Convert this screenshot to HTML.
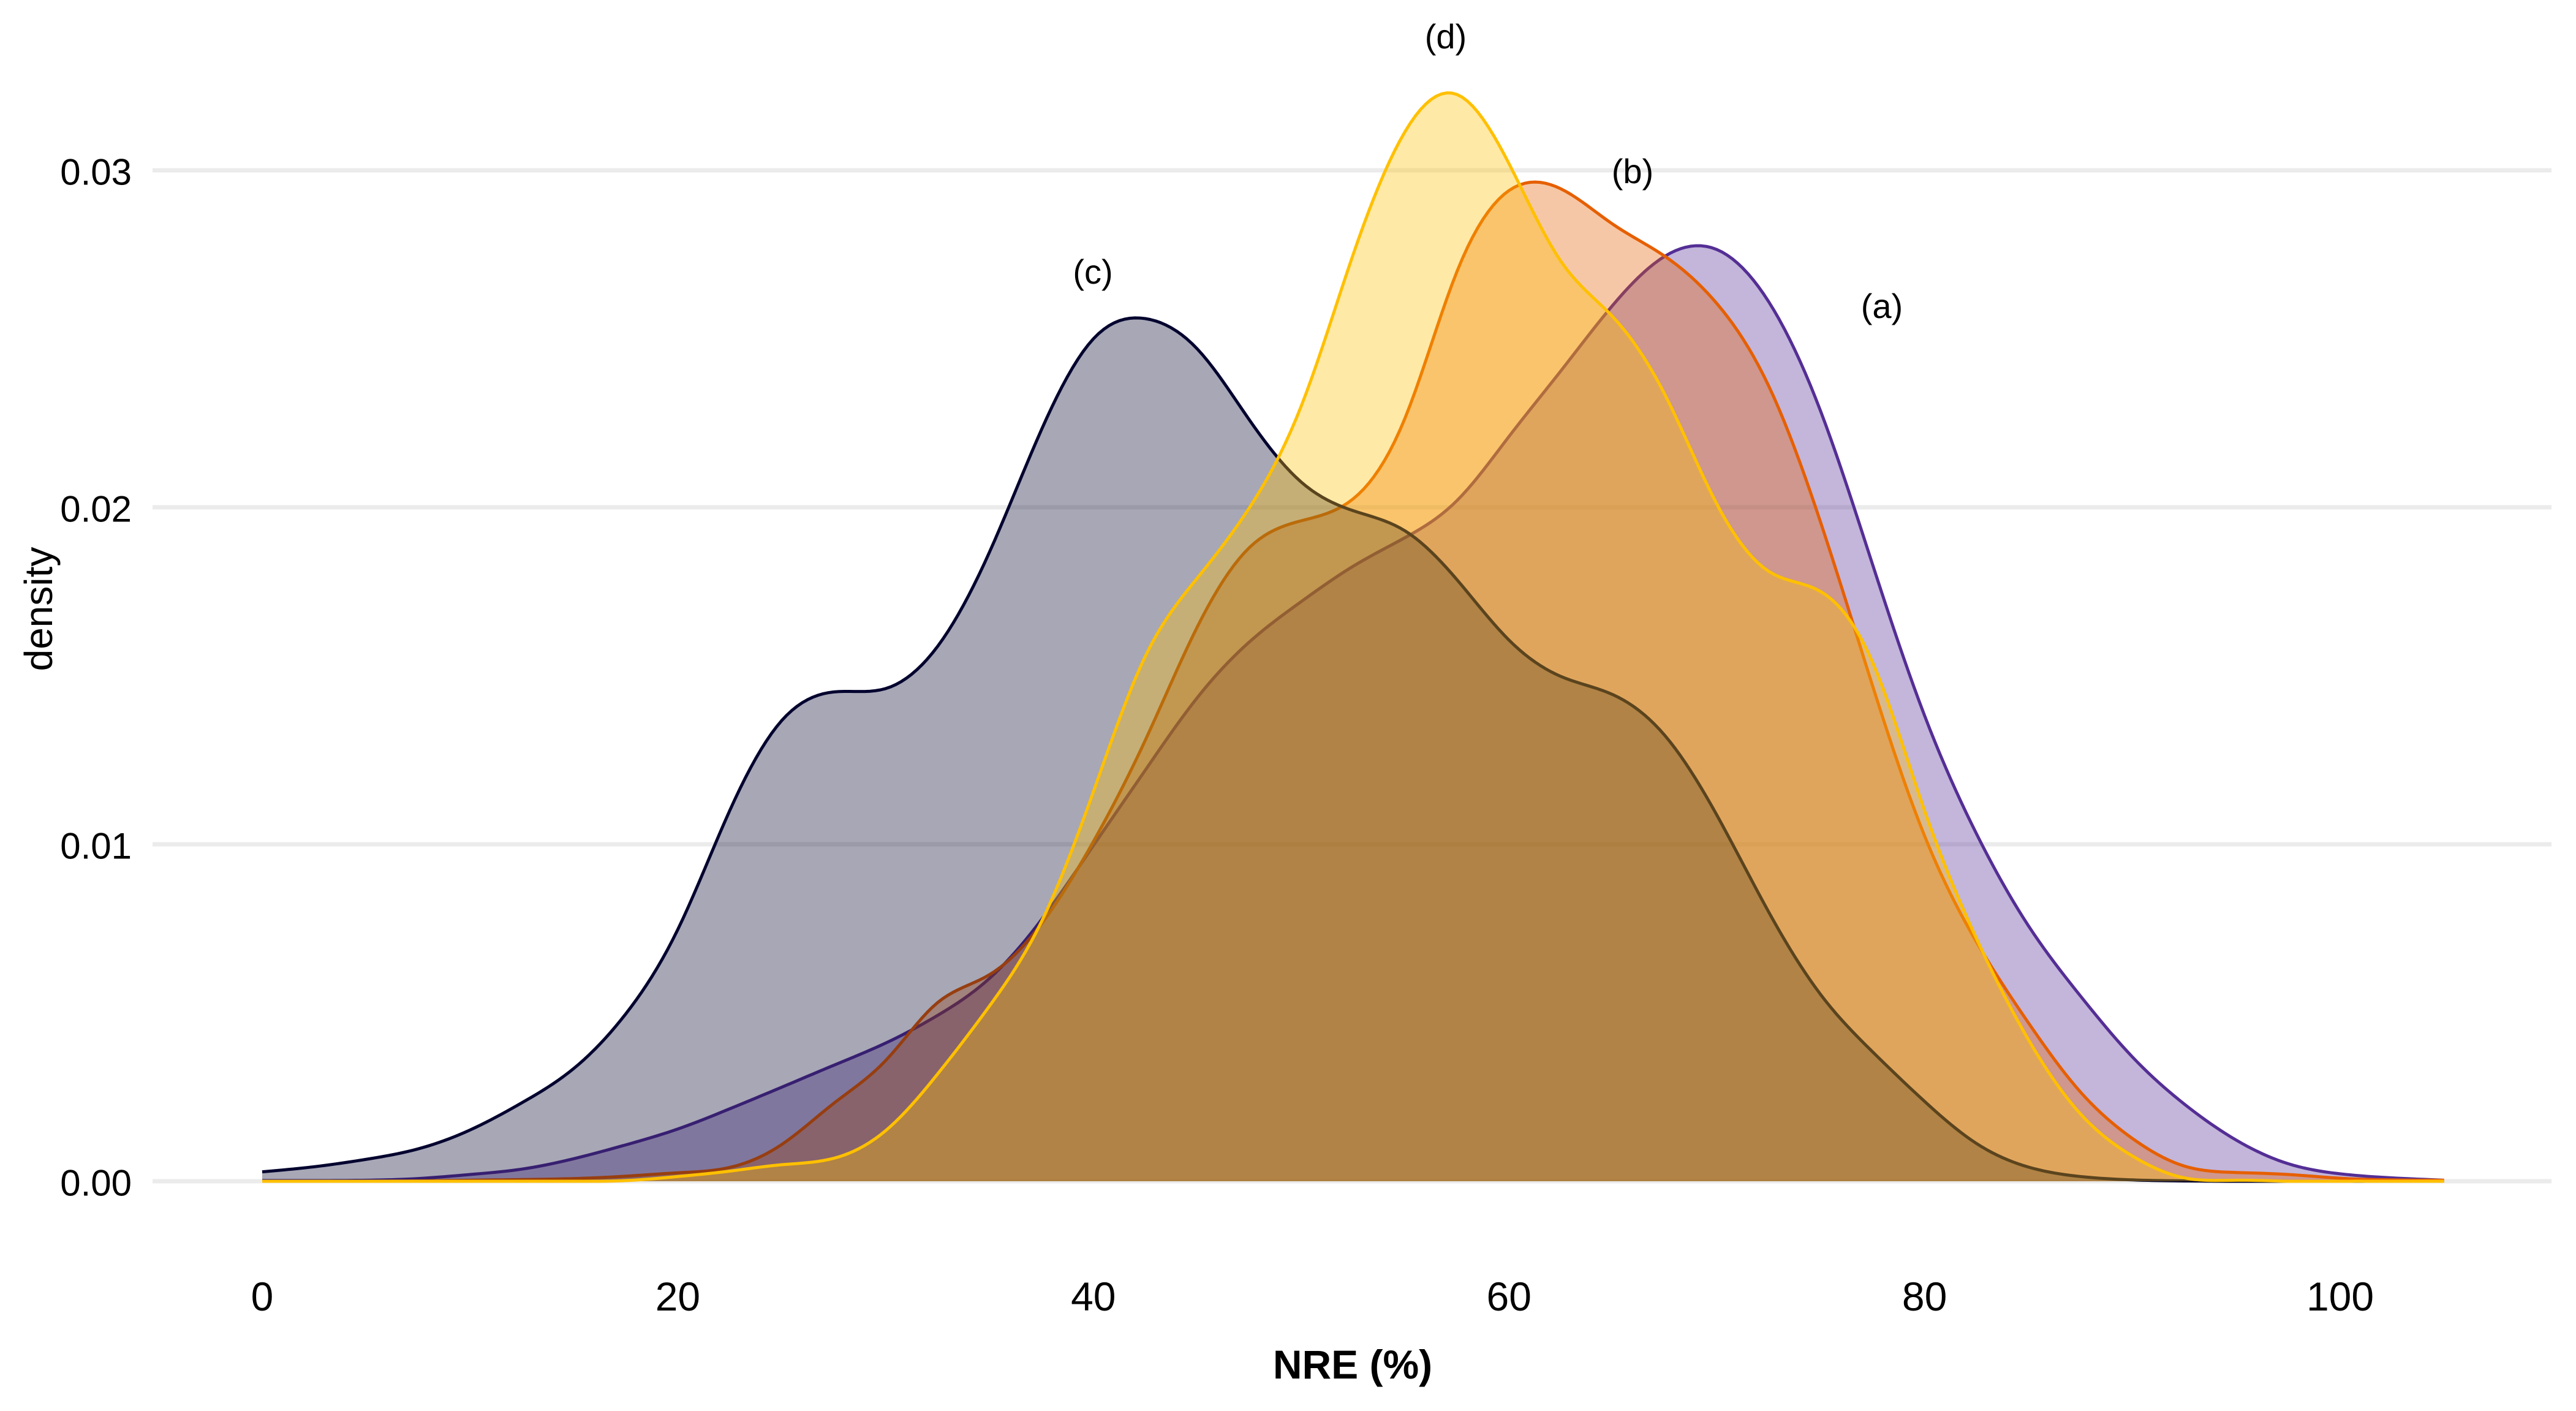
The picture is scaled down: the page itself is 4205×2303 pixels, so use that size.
<!DOCTYPE html>
<html lang="en">
<head>
<meta charset="utf-8">
<title>NRE density plot</title>
<style>
html,body{margin:0;padding:0;background:#fff;width:4205px;height:2303px;overflow:hidden}
svg{display:block}
text{font-family:"Liberation Sans",Arial,sans-serif;fill:#000}
</style>
</head>
<body>
<svg id="chart" xmlns="http://www.w3.org/2000/svg" width="4205" height="2303" viewBox="0 0 4205 2303">
<rect x="0" y="0" width="4205" height="2303" fill="#ffffff"/>
<g id="grid"></g>
<g id="series"></g>
<g id="yticks"></g>
<g id="xticks"></g>
<g id="annots"></g>
<text transform="translate(85 994) rotate(-90)" text-anchor="middle" font-size="64">density</text>
<text x="2208" y="2250" text-anchor="middle" font-size="66" font-weight="700">NRE (%)</text>
</svg>
<script>
var nreGrid = [0,2.5,5,7.5,10,12.5,15,17.5,20,22.5,25,27.5,30,32.5,35,37.5,40,42.5,45,47.5,50,52.5,55,57.5,60,62.5,65,67.5,70,72.5,75,77.5,80,82.5,85,87.5,90,92.5,95,97.5,100,102.5,105];
var densityC = [0.00028,0.00043,0.00065,0.00096,0.00152,0.00233,0.00335,0.00497,0.00747,0.0110,0.01367,0.01452,0.01462,0.01587,0.01867,0.0223,0.0250,0.0256,0.0247,0.0226,0.02075,0.0199,0.0193,0.01785,0.01606,0.01498,0.01444,0.01323,0.01087,0.00799,0.00554,0.00384,0.00237,0.00112,0.00042,0.00014,0.00004,0.00001,0,0,0,0,0];
var densityA = [0.00002,0.00002,0.00003,0.00008,0.0002,0.00036,0.00067,0.00108,0.00155,0.00215,0.00279,0.00344,0.0041,0.00492,0.00602,0.00776,0.00996,0.0122,0.01435,0.0160,0.0172,0.01825,0.0191,0.0202,0.0221,0.02405,0.0260,0.02745,0.02765,0.0261,0.02285,0.0183,0.01382,0.01031,0.00758,0.0055,0.00369,0.00229,0.00122,0.00052,0.00022,0.0001,0.00003];
var densityB = [0,0,0,0.00001,0.00003,0.00005,0.00008,0.00015,0.00025,0.00041,0.00109,0.00231,0.00358,0.0053,0.00613,0.00764,0.01008,0.01309,0.01645,0.0188,0.0196,0.02025,0.02265,0.0270,0.0294,0.02945,0.0284,0.02745,0.02605,0.0236,0.01955,0.0147,0.01025,0.0071,0.0047,0.00265,0.00127,0.00045,0.00026,0.0002,0.00009,0.00004,0.00003];
var densityD = [0,0,0,0,0,0,0,0.00002,0.00014,0.0003,0.00049,0.00068,0.0015,0.00318,0.0052,0.0077,0.01156,0.01558,0.0179,0.01998,0.0230,0.0275,0.03115,0.03225,0.0302,0.0273,0.02565,0.02335,0.0201,0.0181,0.0175,0.0154,0.0110,0.0072,0.0042,0.0020,0.00075,0.0001,0.00003,0,0,0,0];
var xTickValues = [0,20,40,60,80,100];
var xTickLabels = ["0","20","40","60","80","100"];
var yTickValues = [0,0.01,0.02,0.03];
var yTickLabels = ["0.00","0.01","0.02","0.03"];

var SVGNS = "http://www.w3.org/2000/svg";
function xScale(v){ return 428 + v * 33.92; }
function yScale(v){ return 1928 - v * 55000; }
function make(tag, parent, attrs){
  var el = document.createElementNS(SVGNS, tag);
  for (var k in attrs) el.setAttribute(k, attrs[k]);
  parent.appendChild(el);
  return el;
}
// natural cubic spline through the read values, sampled finely for a smooth KDE-like outline
function curvePath(xs, ys){
  var n = xs.length, m = new Array(n).fill(0), a = [], b = [], c = [], r = [];
  for (var i = 1; i < n - 1; i++){
    var h0 = xs[i] - xs[i - 1], h1 = xs[i + 1] - xs[i];
    a[i] = h0; b[i] = 2 * (h0 + h1); c[i] = h1;
    r[i] = 6 * ((ys[i + 1] - ys[i]) / h1 - (ys[i] - ys[i - 1]) / h0);
  }
  for (var j = 2; j < n - 1; j++){
    var w = a[j] / b[j - 1];
    b[j] -= w * c[j - 1];
    r[j] -= w * r[j - 1];
  }
  for (var k = n - 2; k >= 1; k--){
    m[k] = (r[k] - c[k] * m[k + 1]) / b[k];
  }
  var d = "";
  for (var s = 0; s < n - 1; s++){
    var h = xs[s + 1] - xs[s], steps = 10;
    for (var t = (s === 0 ? 0 : 1); t <= steps; t++){
      var x = xs[s] + h * t / steps;
      var A = (xs[s + 1] - x) / h, B = (x - xs[s]) / h;
      var v = A * ys[s] + B * ys[s + 1] + ((A * A * A - A) * m[s] + (B * B * B - B) * m[s + 1]) * h * h / 6;
      if (v < 0) v = 0;
      d += (d ? "L" : "M") + xScale(x).toFixed(2) + " " + yScale(v).toFixed(2);
    }
  }
  return d;
}

var gridG = document.getElementById("grid");
yTickValues.forEach(function(v){
  var ln = make("line", gridG, {x1:249, x2:4165, y1:yScale(v), y2:yScale(v), stroke:"#ebebeb", "stroke-width":7});
  
  
});

var yG = document.getElementById("yticks");
yTickValues.forEach(function(v, i){
  var t = make("text", yG, {x:215, y:yScale(v) + 23.5, "text-anchor":"end", "font-size":60});
  t.textContent = yTickLabels[i];
  
  
});

var xG = document.getElementById("xticks");
xTickValues.forEach(function(v, i){
  var t = make("text", xG, {x:xScale(v), y:2139, "text-anchor":"middle", "font-size":66});
  t.textContent = xTickLabels[i];
  
  
});

var seriesG = document.getElementById("series");
function drawSeries(values, color, name){
  var g = make("g", seriesG, {});
  
  
  var line = curvePath(nreGrid, values);
  var last = nreGrid.length - 1;
  var area = make("path", g, {
    d: line + "L" + xScale(nreGrid[last]) + " " + yScale(0) + "L" + xScale(nreGrid[0]) + " " + yScale(0) + "Z",
    fill: color, "fill-opacity": 0.35, stroke: "none"
  });
  
  
  var stroke = make("path", g, {d: line, fill: "none", stroke: color, "stroke-width": 5, "stroke-linejoin": "round"});
  
  
}
drawSeries(densityA, "#542e95", "series-a");
drawSeries(densityB, "#e65f00", "series-b");
drawSeries(densityC, "#03032f", "series-c");
drawSeries(densityD, "#ffc000", "series-d");

var annotG = document.getElementById("annots");
var a1 = make("text", annotG, {x:3072, y:519, "text-anchor":"middle", "font-size":56});
a1.textContent = "(a)";


var a2 = make("text", annotG, {x:2665, y:299, "text-anchor":"middle", "font-size":56});
a2.textContent = "(b)";


var a3 = make("text", annotG, {x:1784, y:463, "text-anchor":"middle", "font-size":56});
a3.textContent = "(c)";


var a4 = make("text", annotG, {x:2360, y:79, "text-anchor":"middle", "font-size":56});
a4.textContent = "(d)";


</script>
</body>
</html>
